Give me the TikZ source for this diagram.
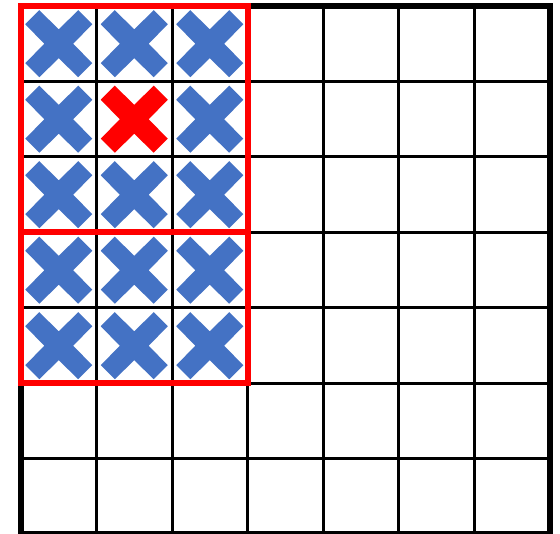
\documentclass[tikz,border=0pt]{standalone}
\definecolor{xblue}{HTML}{4472C4}
\definecolor{xred}{HTML}{FF0000}
\tikzset{
  gridline/.style={line width=3pt, black},
  outerline/.style={line width=6pt, black},
  redbox/.style={line width=6pt, xred},
  xmark/.pic={\fill[#1] (0,-14.5) -- (19.5,-33.5) -- (33.5,-19.5) -- (14.5,0) -- (33.5,19.5) -- (19.5,33.5) -- (0,14.5) -- (-19.5,33.5) -- (-33.5,19.5) -- (-14.5,0) -- (-33.5,-19.5) -- (-19.5,-33.5) -- cycle;}
}
\begin{document}
\begin{tikzpicture}[x=1pt,y=-1pt]
\useasboundingbox (0,0) rectangle (560,534);
\fill[white] (0,0) rectangle (560,534);
% grid
\foreach \i in {1,...,6} {
  \draw[gridline] ({21+75.5*\i},6) -- ({21+75.5*\i},534.5);
  \draw[gridline] (21,{6+75.5*\i}) -- (549.5,{6+75.5*\i});
}
\draw[outerline] (21,6) rectangle (549.5,534.5);
% crosses
\foreach \c in {0,1,2} {
  \foreach \r in {0,...,4} {
    \ifnum\c=1 \ifnum\r=1 \else
      \pic at ({58.75+75.5*\c},{43.75+75.5*\r}) {xmark=xblue};
    \fi \else
      \pic at ({58.75+75.5*\c},{43.75+75.5*\r}) {xmark=xblue};
    \fi
  }
}
\pic at ({58.75+75.5},{43.75+75.5}) {xmark=xred};
% red boxes
\draw[redbox] (21,6) rectangle (247.5,232.5);
\draw[redbox] (21,232.5) rectangle (247.5,383.5);
\end{tikzpicture}
\end{document}
